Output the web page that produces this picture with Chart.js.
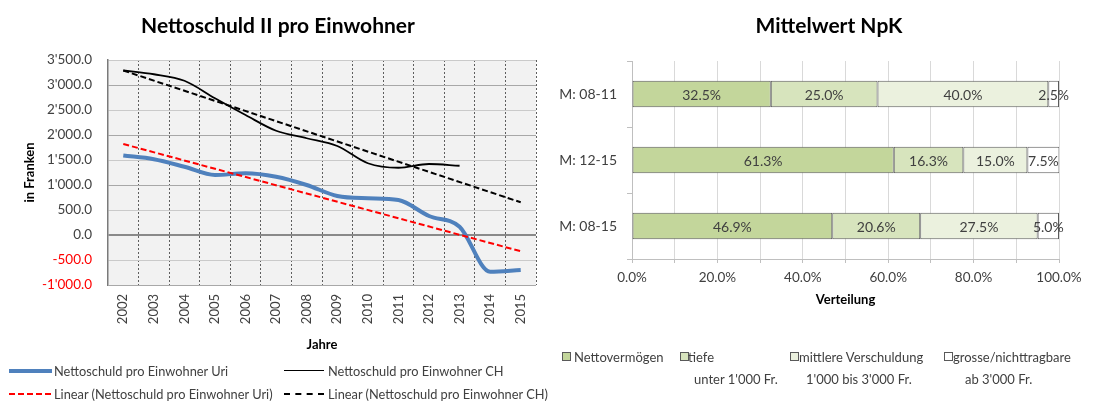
<!DOCTYPE html>
<html><head><meta charset="utf-8">
<script src="https://cdn.jsdelivr.net/npm/chart.js@4.4.1/dist/chart.umd.min.js"></script>
<style>
html,body{margin:0;padding:0;background:#fff;}
#wrap{position:relative;width:1108px;height:406px;overflow:hidden;font-family:Lato,'Open Sans',sans-serif;color:#404040;}
canvas{position:absolute;top:0;}
.t{position:absolute;white-space:nowrap;line-height:16px;}
.title{font-weight:bold;font-size:21px;color:#000;transform:translateX(-50%);top:12px;line-height:26px;}
.lg{font-size:12.8px;color:#404040;}
.rl{font-size:13px;color:#404040;}
.ln{position:absolute;height:0;}
.bx{position:absolute;width:7px;height:7px;border:1px solid #595959;}
</style></head>
<body>
<div id="wrap">
  <canvas id="c1" width="556" height="360" style="left:0"></canvas>
  <canvas id="c2" width="552" height="320" style="left:556px"></canvas>
  <div class="t title" style="left:278px">Nettoschuld II pro Einwohner</div>
  <div class="t title" style="left:829px">Mittelwert NpK</div>

  <div class="ln" style="left:9px;top:369px;width:43px;border-top:4px solid #4f81bd"></div>
  <div class="t lg" style="left:54px;top:363px">Nettoschuld pro Einwohner Uri</div>
  <div class="ln" style="left:284px;top:370px;width:40px;border-top:1.5px solid #000"></div>
  <div class="t lg" style="left:328px;top:363px">Nettoschuld pro Einwohner CH</div>
  <div class="ln" style="left:9px;top:393px;width:42px;border-top:2px dashed #ff0000"></div>
  <div class="t lg" style="left:54px;top:386px">Linear (Nettoschuld pro Einwohner Uri)</div>
  <div class="ln" style="left:284px;top:393px;width:40px;border-top:2px dashed #000"></div>
  <div class="t lg" style="left:328px;top:386px">Linear (Nettoschuld pro Einwohner CH)</div>

  <div class="bx" style="left:562px;top:352px;background:#c3d69b"></div>
  <div class="t rl" style="left:574px;top:349px">Nettovermögen</div>
  <div class="bx" style="left:680px;top:352px;background:#d7e4bd"></div>
  <div class="t rl" style="left:688px;top:349px">tiefe</div>
  <div class="t rl" style="left:694px;top:371px">unter 1'000 Fr.</div>
  <div class="bx" style="left:790px;top:352px;background:#ebf1de"></div>
  <div class="t rl" style="left:799px;top:349px">mittlere Verschuldung</div>
  <div class="t rl" style="left:806px;top:371px">1'000 bis 3'000 Fr.</div>
  <div class="bx" style="left:944px;top:352px;background:#ffffff"></div>
  <div class="t rl" style="left:953px;top:349px">grosse/nichttragbare</div>
  <div class="t rl" style="left:965px;top:371px">ab 3'000 Fr.</div>
</div>
<script>
// ---- data: left chart ----
const years = ['2002','2003','2004','2005','2006','2007','2008','2009','2010','2011','2012','2013','2014','2015'];
const uriValues = [1590, 1515, 1365, 1200, 1235, 1165, 1000, 780, 735, 700, 380, 165, -735, -700];
const chValues = [3290, 3215, 3085, 2735, 2400, 2085, 1935, 1780, 1435, 1345, 1420, 1385, null, null];
const uriTrend = [1820, null, null, null, null, null, null, null, null, null, null, null, null, -325];
const chTrend = [3290, null, null, null, null, null, null, null, null, null, null, null, null, 655];
const yMin = -1000, yMax = 3500, yStep = 500;

// ---- data: right chart ----
const periods = ['M: 08-11', 'M: 12-15', 'M: 08-15'];
const nettoVermoegen = [32.5, 61.3, 46.9];
const tiefe = [25.0, 16.3, 20.6];
const mittlere = [40.0, 15.0, 27.5];
const grosse = [2.5, 7.5, 5.0];
const seriesNames = ['Nettovermögen', 'tiefe', 'mittlere Verschuldung', 'grosse/nichttragbare'];

const FONT = 'Lato, "Open Sans", sans-serif';
Chart.defaults.font.family = FONT;
Chart.defaults.color = '#404040';

function fmt(v) {
  const s = Math.abs(v).toFixed(1);
  const parts = s.split('.');
  const i = parts[0].replace(/\B(?=(\d{3})+(?!\d))/g, "'");
  return (v < 0 ? '-' : '') + i + '.' + parts[1];
}

const bgPlugin = {
  id: 'plotBg',
  beforeDraw(chart, args, opts) {
    if (!opts.color) return;
    const a = chart.chartArea, ctx = chart.ctx;
    ctx.save();
    ctx.fillStyle = opts.color;
    ctx.fillRect(a.left, a.top, a.right - a.left, a.bottom - a.top);
    ctx.restore();
  }
};

new Chart(document.getElementById('c1'), {
  type: 'line',
  data: {
    labels: years,
    datasets: [
      { label: 'Linear (Nettoschuld pro Einwohner Uri)', data: uriTrend, borderColor: '#ff0000', borderWidth: 2, borderDash: [6, 3], spanGaps: true, pointRadius: 0, tension: 0, order: 0 },
      { label: 'Linear (Nettoschuld pro Einwohner CH)', data: chTrend, borderColor: '#000000', borderWidth: 2, borderDash: [6, 3], spanGaps: true, pointRadius: 0, tension: 0, order: 0 },
      { label: 'Nettoschuld pro Einwohner Uri', data: uriValues, borderColor: '#4f81bd', borderWidth: 4, pointRadius: 0, cubicInterpolationMode: 'monotone', order: 1 },
      { label: 'Nettoschuld pro Einwohner CH', data: chValues, borderColor: '#000000', borderWidth: 1.8, pointRadius: 0, cubicInterpolationMode: 'monotone', order: 1 }
    ]
  },
  options: {
    responsive: false, animation: false,
    layout: { padding: { top: 60, left: 0, right: 20, bottom: 0 } },
    plugins: { legend: { display: false }, tooltip: { enabled: false }, plotBg: { color: '#f2f2f2' } },
    scales: {
      x: {
        offset: true,
        grid: { offset: true, color: '#5e5e5e', drawTicks: false, lineWidth: 1 },
        border: { display: false, dash: [2, 2] },
        ticks: { maxRotation: 90, minRotation: 90, padding: 9, font: { size: 13 }, color: '#404040' },
        title: { display: true, text: 'Jahre', font: { size: 13, weight: 'bold' }, color: '#000', padding: { top: 0, bottom: 7 } },
        afterFit(s) { s.height = 75; }
      },
      y: {
        min: yMin, max: yMax,
        ticks: {
          stepSize: yStep, padding: 16, font: { size: 13.5 },
          callback: v => fmt(v),
          color: c => (c.tick && c.tick.value < 0) ? '#ff0000' : '#404040'
        },
        grid: {
          drawTicks: false,
          color: c => { const v = c.tick ? c.tick.value : 1; if (v === 0) return '#8a8a8a'; return (v % 1000 === 0) ? '#a8a8a8' : '#cacaca'; },
          lineWidth: c => (c.tick && c.tick.value === 0) ? 2 : 1
        },
        border: { display: true, color: '#7a7a7a', width: 1.5 },
        title: { display: true, text: 'in Franken', font: { size: 13, weight: 'bold' }, color: '#000', padding: { top: 22, bottom: 0 } },
        afterFit(s) { s.width = 108; }
      }
    }
  },
  plugins: [bgPlugin]
});

const valueLabels = {
  id: 'valueLabels',
  afterDatasetsDraw(chart) {
    const ctx = chart.ctx;
    ctx.save();
    ctx.font = '14px ' + FONT;
    ctx.fillStyle = '#404040';
    ctx.textAlign = 'center';
    ctx.textBaseline = 'middle';
    chart.data.datasets.forEach((ds, i) => {
      const meta = chart.getDatasetMeta(i);
      meta.data.forEach((el, j) => {
        const v = ds.data[j];
        ctx.fillText(v.toFixed(1) + '%', (el.x + el.base) / 2, el.y + 1);
      });
    });
    ctx.restore();
  }
};

const barColors = ['#c3d69b', '#d7e4bd', '#ebf1de', '#ffffff'];
const barSeries = [nettoVermoegen, tiefe, mittlere, grosse];

new Chart(document.getElementById('c2'), {
  type: 'bar',
  data: {
    labels: periods,
    datasets: barSeries.map((d, i) => ({
      label: seriesNames[i], data: d, backgroundColor: barColors[i],
      borderColor: '#5a5a5a', borderWidth: 1, borderSkipped: false,
      barPercentage: 0.4, categoryPercentage: 1
    }))
  },
  options: {
    indexAxis: 'y', responsive: false, animation: false,
    layout: { padding: { top: 61, left: 0, right: 49, bottom: 0 } },
    plugins: { legend: { display: false }, tooltip: { enabled: false } },
    scales: {
      x: {
        stacked: true, min: 0, max: 100,
        ticks: { stepSize: 10, autoSkip: false, maxRotation: 0, padding: 7, font: { size: 13.5 }, color: '#404040',
          callback: v => (v % 20 === 0) ? v.toFixed(1) + '%' : '' },
        grid: { color: '#d9d9d9', tickLength: 4, tickColor: '#bfbfbf' },
        border: { color: '#bfbfbf' },
        title: { display: true, text: 'Verteilung', font: { size: 13, weight: 'bold' }, color: '#000', padding: { top: 0, bottom: 12 } },
        afterFit(s) { s.height = 61; }
      },
      y: {
        stacked: true,
        grid: { drawOnChartArea: false, offset: true, tickLength: 5, color: '#bfbfbf' },
        border: { color: '#bfbfbf' },
        ticks: { padding: 10, font: { size: 14 }, color: '#404040' },
        afterFit(s) { s.width = 76; }
      }
    }
  },
  plugins: [valueLabels]
});
</script>
</body></html>
